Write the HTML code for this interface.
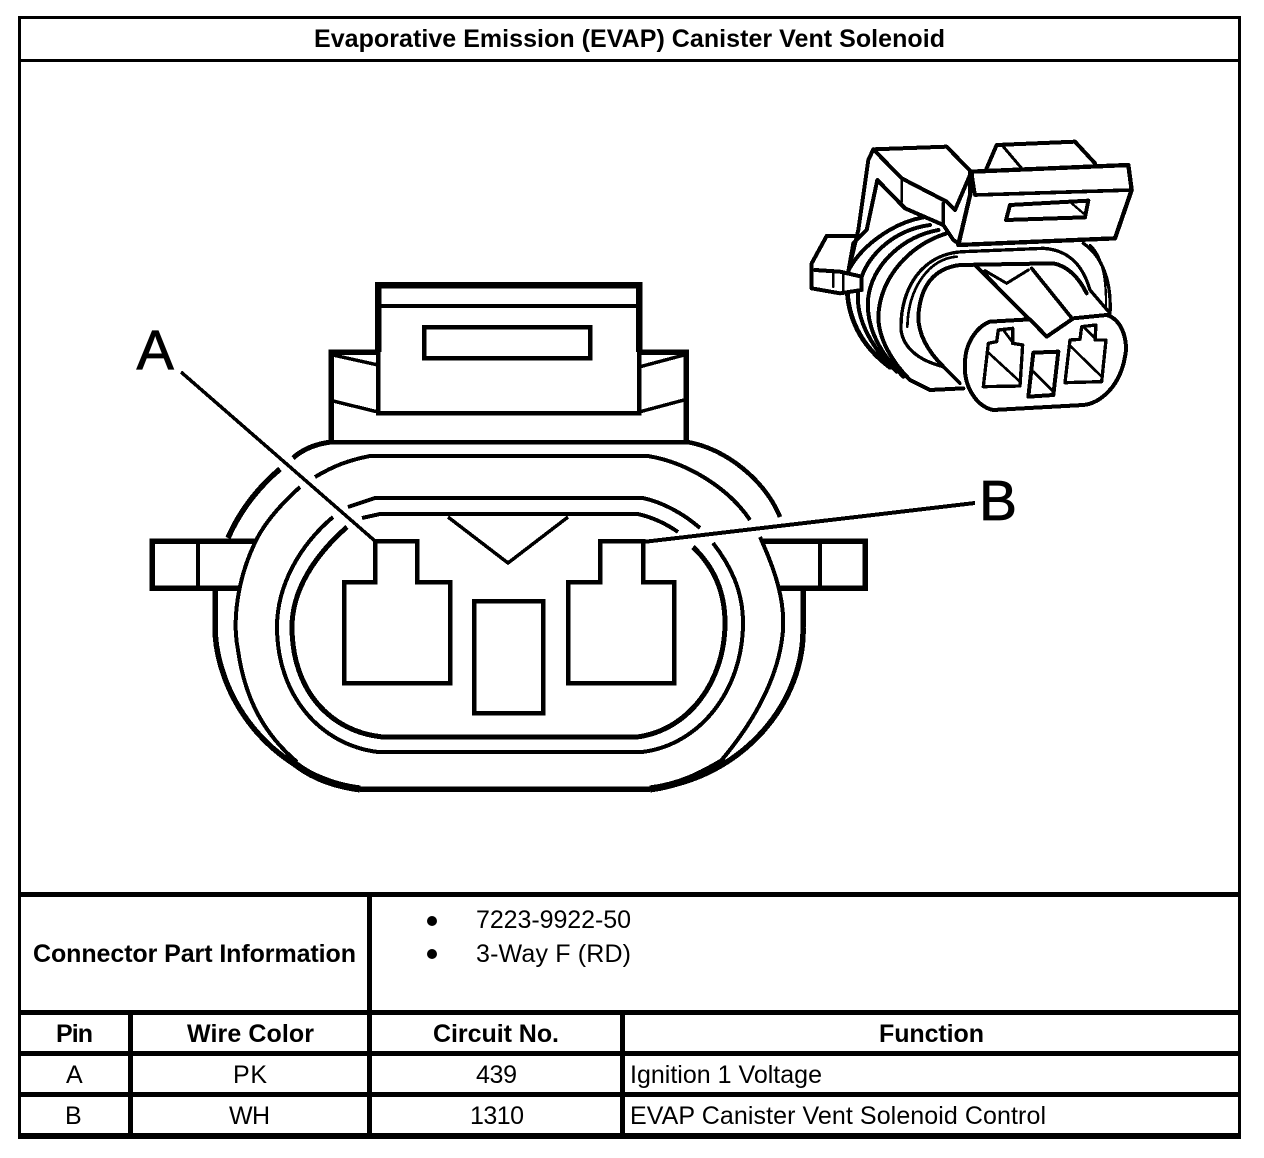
<!DOCTYPE html>
<html>
<head>
<meta charset="utf-8">
<title>Evaporative Emission (EVAP) Canister Vent Solenoid</title>
<style>
html,body{margin:0;padding:0;background:#fff;width:1264px;height:1158px;overflow:hidden}
svg{display:block}
text{font-family:"Liberation Sans",Arial,sans-serif;fill:#000}
.b{font-weight:bold;font-size:25px}
.r{font-size:25px}
</style>
</head>
<body>
<svg width="1264" height="1158" viewBox="0 0 1264 1158" xmlns="http://www.w3.org/2000/svg">
<rect width="1264" height="1158" fill="#fff"/>

<!-- table frame -->
<g fill="#000" shape-rendering="crispEdges">
<rect x="18" y="16" width="1223" height="3"/>
<rect x="18" y="16" width="3" height="1122"/>
<rect x="1238" y="16" width="3" height="1122"/>
<rect x="18" y="59" width="1223" height="3"/>
<rect x="18" y="892" width="1223" height="5"/>
<rect x="18" y="1010" width="1223" height="5"/>
<rect x="18" y="1051" width="1223" height="5"/>
<rect x="18" y="1092" width="1223" height="5"/>
<rect x="18" y="1133" width="1223" height="6"/>
<rect x="367" y="892" width="5" height="245"/>
<rect x="128" y="1012" width="5" height="125"/>
<rect x="620" y="1012" width="5" height="125"/>
</g>

<!-- table text -->
<text class="b" x="314" y="47" textLength="631" lengthAdjust="spacing">Evaporative Emission (EVAP) Canister Vent Solenoid</text>
<text class="b" x="33" y="962" textLength="323" lengthAdjust="spacing">Connector Part Information</text>
<circle cx="432" cy="921" r="5"/>
<circle cx="432" cy="954" r="5"/>
<text class="r" x="476" y="928" textLength="155" lengthAdjust="spacing">7223-9922-50</text>
<text class="r" x="476" y="962" textLength="155" lengthAdjust="spacing">3-Way F (RD)</text>
<text class="b" x="56" y="1042" textLength="37" lengthAdjust="spacing">Pin</text>
<text class="b" x="187" y="1042" textLength="127" lengthAdjust="spacing">Wire Color</text>
<text class="b" x="433" y="1042" textLength="126" lengthAdjust="spacing">Circuit No.</text>
<text class="b" x="879" y="1042" textLength="105" lengthAdjust="spacing">Function</text>
<text class="r" x="66" y="1083">A</text>
<text class="r" x="233" y="1083" textLength="34" lengthAdjust="spacing">PK</text>
<text class="r" x="476" y="1083" textLength="41" lengthAdjust="spacing">439</text>
<text class="r" x="630" y="1083" textLength="192" lengthAdjust="spacing">Ignition 1 Voltage</text>
<text class="r" x="65" y="1124">B</text>
<text class="r" x="229" y="1124" textLength="41" lengthAdjust="spacing">WH</text>
<text class="r" x="470" y="1124" textLength="54" lengthAdjust="spacing">1310</text>
<text class="r" x="630" y="1124" textLength="416" lengthAdjust="spacing">EVAP Canister Vent Solenoid Control</text>

<!-- large connector -->
<g fill="none" stroke="#000" stroke-width="4" stroke-linejoin="miter" shape-rendering="crispEdges">
<!-- latch -->
<path d="M378,352 L378,285 L639,285 L639,352" stroke-width="6.5"/>
<path d="M378,306 H639" stroke-width="4"/>
<rect x="424" y="327" width="166" height="31" stroke-width="4.5"/>
<path d="M378,350 V413 H639 V350" stroke-width="4.5"/>
<path d="M686,442 V352 H639" stroke-width="5.5"/>
<path d="M331,442 V352 H378" stroke-width="5.5"/>
<path d="M333,355 L378,365 M333,401 L378,412" stroke-width="3.5"/>
<path d="M684,355 L639,367 M684,400 L639,412" stroke-width="3.5"/>
<path d="M331,442 H687" stroke-width="4.5"/>
<!-- outer ring -->
<path d="M331,442 C315,444 302,450 293,458" stroke-width="5"/>
<path d="M280,469 C255,490 238,515 228,538" stroke-width="5.5"/>
<path d="M215,588 L215,630 C217,690 262,772 360,789 L650,789 C745,778 805,700 803,627 L803,588" stroke-width="5.5"/>
<path d="M285,755 C305,775 330,785 360,789 M650,789 C680,785 700,775 725,760" stroke-width="7"/>
<path d="M687,442 C725,448 765,480 780,517" stroke-width="4.5"/>
<!-- second ring -->
<path d="M315,477 C335,465 350,460 370,456 L648,456 C690,463 730,490 750,520"/>
<path d="M300,487 C280,505 262,525 253,547 C238,580 232,620 238,650 C245,700 265,735 297,762"/>
<path d="M760,537 C775,570 785,600 783,630 C780,670 760,715 720,762"/>
<!-- third ring -->
<path d="M348,507 L375,498 L643,498 C665,503 685,515 700,528"/>
<path d="M333,517 C300,545 277,585 277,627 C277,695 320,745 378,752 L642,752 C700,745 743,690 743,623 C743,590 730,565 713,543"/>
<!-- fourth ring -->
<path d="M362,518 L380,514 L638,514 C655,518 668,525 678,532"/>
<path d="M347,527 C315,555 292,590 292,627 C292,690 330,732 383,737 L637,737 C690,730 725,680 725,623 C725,590 712,565 693,547" stroke-width="5"/>
<!-- key -->
<path d="M448,517 L508,563 L568,517" stroke-width="3.5"/>
<!-- tabs -->
<path d="M255,541 H152 V588 H238" stroke-width="5.5"/>
<path d="M198,541 V588" stroke-width="4"/>
<path d="M763,541 H865 V588 H780" stroke-width="5.5"/>
<path d="M820,541 V588" stroke-width="4"/>
<!-- pins -->
<path d="M375,541 H417 V582 H450 V683 H344 V582 H375 Z" stroke-width="4.5"/>
<path d="M600,541 H643 V582 H674 V683 H568 V582 H600 Z" stroke-width="4.5"/>
<rect x="474" y="601" width="69" height="112" stroke-width="4.5"/>
<!-- leaders -->
<path d="M181,372 L375,541" stroke-width="3.5"/>
<path d="M643,542 L975,503" stroke-width="4"/>
</g>
<text x="136.5" y="369" font-size="56" stroke="#000" stroke-width="0.8">A</text>
<text x="979" y="520" font-size="57" stroke="#000" stroke-width="0.8">B</text>

<!-- small connector (coordinates in 3x space) -->
<g transform="translate(790,130) scale(0.33333)" fill="none" stroke="#000" stroke-width="12" stroke-linejoin="round" stroke-linecap="round" shape-rendering="crispEdges">
<!-- ribs -->
<path d="M400,262 C300,280 200,360 172,430"/>
<path d="M172,490 C180,590 230,660 300,712" stroke-width="14"/>
<path d="M420,285 C310,300 220,380 205,480 C195,560 240,650 320,725"/>
<path d="M445,300 C340,320 250,400 235,500 C225,590 270,670 340,740"/>
<path d="M470,310 C360,345 270,440 265,560 C265,620 300,690 360,750 L420,780 L520,775"/>
<!-- opening rings -->
<path d="M510,760 L460,710 C380,690 340,650 333,600 C330,470 400,370 520,365 L760,355 C840,360 880,410 900,480 L960,550" stroke-width="10"/>
<path d="M352,590 C355,470 420,385 500,380" stroke-width="8"/>
<path d="M460,710 C410,660 385,610 385,560 C390,470 430,415 510,405 L790,400 C840,410 870,450 890,490" stroke-width="12"/>
<path d="M880,340 C940,380 965,460 960,550" stroke-width="10"/>
<path d="M900,345 C930,370 950,430 948,530" stroke-width="7"/>
<!-- key -->
<path d="M555,405 L770,620 L850,570 L725,415" stroke-width="11"/>
<path d="M585,422 L650,460 L715,420" stroke-width="9"/>
<path d="M580,425 L745,600" stroke-width="9"/>
<!-- left tab -->
<path d="M195,318 L110,318 L65,400 L65,475 L150,490 L215,480 L215,440 L150,425 L75,420" fill="#fff"/>
<path d="M130,425 L130,470 M160,435 L160,480" stroke-width="8"/>
<!-- left block -->
<path d="M250,58 L470,50 L540,122 L540,200 L505,340 L490,330 L460,285 L345,235 L262,150 L230,300 L190,340 L175,425 L205,300 L235,90 Z" fill="#fff"/>
<path d="M250,58 L335,145 L470,215 L495,240 L540,135" stroke-width="12"/>
<path d="M335,145 L335,215" stroke-width="8"/>
<path d="M460,220 L460,285" stroke-width="11"/>
<path d="M345,235 L460,285" stroke-width="11"/>
<!-- back tab -->
<path d="M590,115 L620,45 L855,35 L915,100" stroke-width="12"/>
<path d="M640,50 L695,115" stroke-width="9"/>
<!-- latch box -->
<path d="M545,125 L1015,105 L1025,180 L975,325 L505,345 L545,175 Z" fill="#fff" stroke-width="13"/>
<path d="M545,130 L555,195 L1025,180" stroke-width="11"/>
<path d="M660,225 L895,212 L885,262 L648,270 Z" stroke-width="12"/>
<path d="M845,220 L880,250" stroke-width="7"/>
<!-- face -->
<path d="M600,575 L720,568 L770,620 L850,565 L950,555 C1000,570 1015,640 1005,680 C990,770 930,820 880,825 L610,840 C560,830 520,770 525,700 C525,640 560,590 600,575 Z" fill="#fff" stroke-width="12"/>
<path d="M625,600 L668,595 L668,640 L698,645 L690,768 L580,770 L595,640 L620,635 Z" stroke-width="10"/>
<path d="M592,665 L690,755 M640,600 L670,640" stroke-width="8"/>
<path d="M875,590 L918,585 L915,630 L948,630 L935,755 L825,758 L840,630 L870,628 Z" stroke-width="10"/>
<path d="M838,645 L935,740 M880,590 L920,630" stroke-width="8"/>
<path d="M730,668 L805,665 L790,795 L715,800 Z" stroke-width="12"/>
<path d="M730,725 L790,785" stroke-width="8"/>
</g>
</svg>
</body>
</html>
